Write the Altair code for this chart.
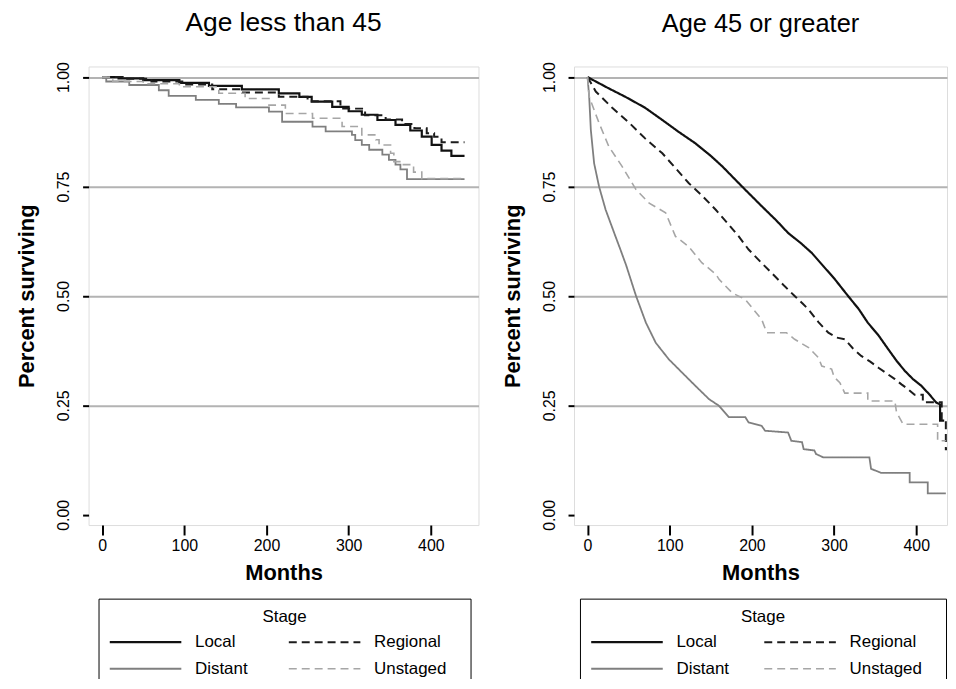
import altair as alt
import pandas as pd

stages = ["Local", "Regional", "Distant", "Unstaged"]
stage_colors = ["#111111", "#1c1c1c", "#7f7f7f", "#a6a6a6"]
stage_dashes = [[1, 0], [8, 5], [1, 0], [8, 5]]
stage_widths = [2.2, 1.6, 1.5, 1.3]

y_ticks = [0, 0.25, 0.5, 0.75, 1.0]
x_ticks = [0, 100, 200, 300, 400]

# ---- Age less than 45 (step function points: month where value starts) ----
local_lt_m = [0, 20, 50, 94, 130, 170, 215, 240, 255, 280, 300, 316, 335, 357, 375, 389, 401, 413, 425, 441]
local_lt_s = [1.0, 0.997, 0.993, 0.987, 0.980, 0.972, 0.963, 0.955, 0.944, 0.932, 0.922, 0.914, 0.902, 0.891, 0.878, 0.864, 0.845, 0.832, 0.82, 0.82]
regional_lt_m = [0, 25, 60, 100, 134, 170, 215, 250, 290, 320, 345, 365, 380, 395, 404, 413, 441]
regional_lt_s = [1.0, 0.996, 0.99, 0.983, 0.972, 0.965, 0.955, 0.945, 0.928, 0.913, 0.903, 0.893, 0.883, 0.872, 0.864, 0.851, 0.851]
distant_lt_m = [0, 5, 33, 69, 81, 114, 142, 163, 203, 219, 256, 272, 304, 308, 316, 325, 341, 349, 357, 363, 371, 441]
distant_lt_s = [1.0, 0.99, 0.982, 0.970, 0.957, 0.948, 0.939, 0.931, 0.921, 0.898, 0.887, 0.876, 0.868, 0.856, 0.845, 0.834, 0.823, 0.811, 0.80, 0.789, 0.767, 0.767]
unstaged_lt_m = [0, 13, 50, 94, 142, 174, 203, 223, 256, 292, 316, 333, 337, 351, 355, 365, 379, 389, 441]
unstaged_lt_s = [1.0, 0.99, 0.985, 0.978, 0.963, 0.951, 0.936, 0.917, 0.906, 0.887, 0.868, 0.857, 0.845, 0.826, 0.807, 0.80, 0.783, 0.768, 0.768]

# ---- Age 45 or greater (curve vertices) ----
local_ge_m = [0, 10, 25, 46, 70, 91, 110, 131, 150, 164, 188, 212, 230, 244, 260, 273, 287, 301, 317, 330, 341, 354, 366, 376, 386, 396, 406, 416, 424, 429, 429, 434]
local_ge_s = [1.0, 0.99, 0.975, 0.955, 0.93, 0.902, 0.876, 0.849, 0.82, 0.796, 0.75, 0.705, 0.672, 0.644, 0.62, 0.598, 0.568, 0.538, 0.50, 0.47, 0.439, 0.41, 0.378, 0.352, 0.329, 0.31, 0.295, 0.275, 0.257, 0.252, 0.215, 0.215]
regional_ge_m = [0, 10, 30, 51, 70, 91, 108, 123, 140, 156, 170, 184, 196, 212, 228, 240, 252, 262, 269, 281, 293, 303, 313, 323, 333, 344, 354, 364, 374, 382, 390, 398, 408, 408, 424, 431, 431, 436, 436, 438]
regional_ge_s = [1.0, 0.967, 0.93, 0.895, 0.86, 0.826, 0.79, 0.758, 0.728, 0.697, 0.667, 0.636, 0.606, 0.575, 0.545, 0.522, 0.50, 0.482, 0.469, 0.44, 0.416, 0.405, 0.401, 0.38, 0.363, 0.35, 0.336, 0.323, 0.31, 0.298, 0.287, 0.274, 0.274, 0.257, 0.257, 0.257, 0.215, 0.215, 0.15, 0.15]
distant_ge_m = [0, 2, 4, 8, 14, 22, 34, 40, 47, 59, 71, 83, 99, 115, 131, 148, 160, 172, 192, 196, 212, 216, 244, 248, 261, 263, 276, 278, 287, 343, 345, 357, 392, 392, 414, 414, 436]
distant_ge_s = [1.0, 0.955, 0.879, 0.803, 0.750, 0.697, 0.636, 0.606, 0.57, 0.50, 0.439, 0.393, 0.355, 0.325, 0.295, 0.264, 0.249, 0.223, 0.223, 0.211, 0.203, 0.192, 0.188, 0.169, 0.166, 0.150, 0.147, 0.139, 0.131, 0.131, 0.105, 0.096, 0.096, 0.074, 0.074, 0.049, 0.049]
unstaged_ge_m = [0, 2, 14, 26, 42, 59, 75, 95, 107, 123, 139, 156, 160, 176, 192, 212, 218, 242, 252, 269, 281, 285, 297, 300, 307, 313, 341, 341, 374, 376, 384, 426, 426, 436]
unstaged_ge_s = [1.0, 0.955, 0.895, 0.841, 0.796, 0.743, 0.712, 0.690, 0.636, 0.613, 0.576, 0.55, 0.538, 0.507, 0.492, 0.446, 0.416, 0.416, 0.401, 0.382, 0.359, 0.34, 0.333, 0.315, 0.302, 0.278, 0.278, 0.26, 0.26, 0.234, 0.207, 0.207, 0.169, 0.169]


def to_frame(series):
    rows = []
    for stage, (ms, ss) in series.items():
        for i, (m, s) in enumerate(zip(ms, ss)):
            rows.append({"Stage": stage, "Months": m, "Surv": s, "ord": i})
    return pd.DataFrame(rows)


df_lt = to_frame({
    "Local": (local_lt_m, local_lt_s),
    "Regional": (regional_lt_m, regional_lt_s),
    "Distant": (distant_lt_m, distant_lt_s),
    "Unstaged": (unstaged_lt_m, unstaged_lt_s),
})
df_ge = to_frame({
    "Local": (local_ge_m, local_ge_s),
    "Regional": (regional_ge_m, regional_ge_s),
    "Distant": (distant_ge_m, distant_ge_s),
    "Unstaged": (unstaged_ge_m, unstaged_ge_s),
})

FONT = "Liberation Sans"
PH = 461
PX_PER_MONTH = 392 / (458 + 16.5)
LABEL_PAD = "\u00a0\u00a0\u00a0\u200b"


def legend(lx, colpad):
    return alt.Legend(
        title="Stage", orient="none", legendX=lx, legendY=535,
        direction="horizontal", columns=2,
        titleAnchor="middle", titleFontSize=17, titleFontWeight="normal", titleFont=FONT,
        titleColor="black", titlePadding=8,
        labelFontSize=17, labelFont=FONT, labelColor="black", labelOffset=70,
        labelExpr="datum.label + '" + LABEL_PAD + "'",
        symbolType="M-1,0H9", symbolSize=207, symbolStrokeWidth=2,
        strokeColor="black", fillColor="white", padding=10,
        columnPadding=colpad, rowPadding=9,
    )


def panel(df, title, interp, tsize, width, lx, colpad):
    xmax = -16.5 + width / PX_PER_MONTH
    return alt.Chart(df).mark_line(interpolate=interp, clip=True).encode(
        x=alt.X("Months:Q",
                scale=alt.Scale(domain=[-16.5, xmax], nice=False, zero=False),
                axis=alt.Axis(values=x_ticks, title="Months", grid=False, domain=False,
                              tickSize=10, tickWidth=2, tickColor="black",
                              labelFontSize=16, labelFont=FONT, labelColor="black", labelPadding=3,
                              titleFontSize=22, titleFont=FONT, titleFontWeight="bold",
                              titleColor="black", titleBaseline="alphabetic", titleY=55)),
        y=alt.Y("Surv:Q",
                scale=alt.Scale(domain=[-0.0234, 1.0243], nice=False, zero=False),
                axis=alt.Axis(values=y_ticks, format=".2f", title="Percent surviving",
                              grid=True, gridColor="#b3b3b3", gridWidth=2,
                              gridOpacity=alt.condition("datum.value == 0", alt.value(0), alt.value(1)),
                              domain=False, tickSize=6, tickWidth=2, tickColor="black",
                              labelAngle=270, labelAlign="center", labelBaseline="bottom",
                              labelPadding=11, labelFontSize=16, labelFont=FONT, labelColor="black",
                              titleAngle=270, titleAlign="center", titleBaseline="alphabetic",
                              titleX=-55, titleY=PH / 2, titleFontSize=22, titleFont=FONT,
                              titleFontWeight="bold", titleColor="black")),
        stroke=alt.Stroke("Stage:N", scale=alt.Scale(domain=stages, range=stage_colors),
                          legend=legend(lx, colpad)),
        strokeDash=alt.StrokeDash("Stage:N", scale=alt.Scale(domain=stages, range=stage_dashes),
                                  legend=legend(lx, colpad)),
        strokeWidth=alt.StrokeWidth("Stage:N", scale=alt.Scale(domain=stages, range=stage_widths), legend=None),
        order=alt.Order("ord:Q"),
    ).properties(
        width=width, height=PH,
        title=alt.TitleParams(title, fontSize=tsize, font=FONT, fontWeight="normal", color="black",
                              anchor="middle", frame="group", baseline="alphabetic", offset=4),
    )


left = panel(df_lt, "Age less than 45", "step-after", 26.5, 392, 10, 22)
right = panel(df_ge, "Age 45 or greater", "linear", 25.5, 375, 6, 16)

chart = alt.hconcat(left, right, spacing=21).resolve_scale(
    stroke="independent", strokeDash="independent", strokeWidth="independent"
).properties(
    padding={"left": 7, "top": 0, "right": 0, "bottom": -11}
).configure_view(stroke="black", strokeWidth=1.2).configure(background="white")

chart.save("out.html", embed_options={"renderer": "svg", "actions": False})
